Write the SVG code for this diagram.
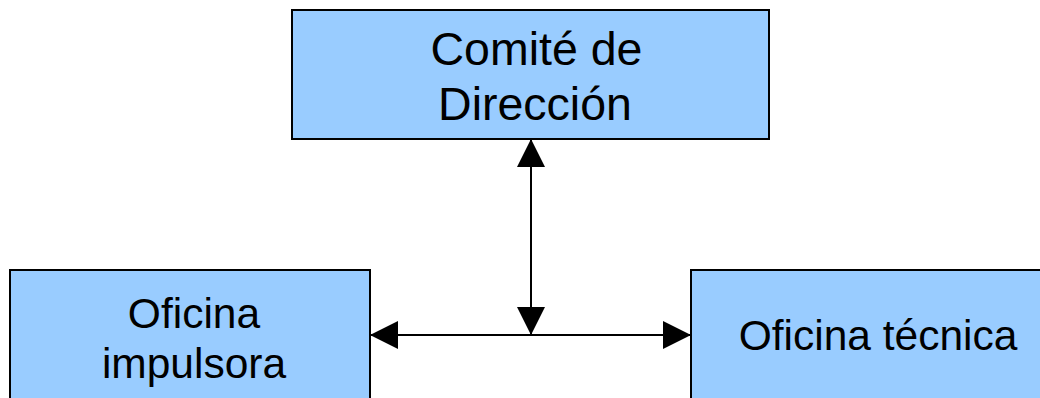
<svg xmlns="http://www.w3.org/2000/svg" width="1040" height="398" viewBox="0 0 1040 398">
<style>
.box{fill:#99ccff;stroke:#000;stroke-width:2}
.t1{font-family:"Liberation Sans",Arial,sans-serif;font-size:46.5px;fill:#000;text-anchor:middle}
.t2{font-family:"Liberation Sans",Arial,sans-serif;font-size:42.5px;fill:#000;text-anchor:middle}
.con{stroke:#000;stroke-width:2;fill:none;marker-start:url(#ah);marker-end:url(#ah)}
</style>
<defs>
<marker id="ah" markerUnits="userSpaceOnUse" viewBox="0 0 28 28" refX="28" refY="14" markerWidth="28" markerHeight="28" orient="auto-start-reverse">
<path d="M0,0 L28,14 L0,28 Z" fill="#000"/>
</marker>
</defs>
<g id="connectors">
<path class="con" d="M531,139 L531,335"/>
<path class="con" d="M370,335 L691,335"/>
</g>
<g id="comite">
<rect class="box" x="292" y="10" width="477" height="129"/>
<text class="t1" x="536.5" y="65">Comité de</text>
<text class="t1" x="535" y="120">Dirección</text>
</g>
<g id="oficina-impulsora">
<rect class="box" x="10" y="270" width="360" height="140"/>
<text class="t2" x="194" y="327.5">Oficina</text>
<text class="t2" x="194" y="377.5">impulsora</text>
</g>
<g id="oficina-tecnica">
<rect class="box" x="691" y="270" width="374" height="140"/>
<text class="t2" x="878" y="350">Oficina técnica</text>
</g>
</svg>
